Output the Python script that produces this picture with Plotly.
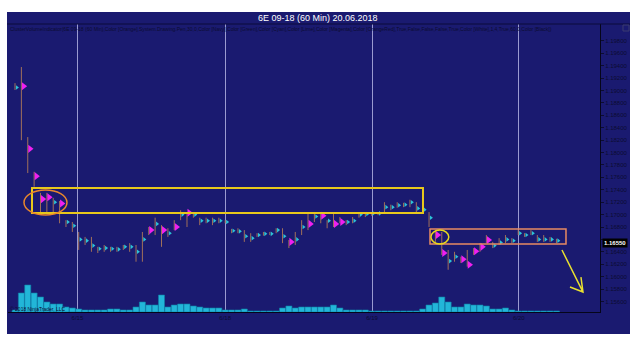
import plotly.graph_objects as go

# ---------------- data ----------------
bar_index = list(range(86))
high = [1.1912, 1.1938, 1.1825, 1.1769, 1.1735, 1.1735, 1.1727, 1.1722, 1.1691, 1.1688,
        1.1672, 1.1664, 1.1664, 1.1648, 1.1651, 1.1648, 1.1648, 1.1651, 1.1654, 1.1651,
        1.1672, 1.1680, 1.1695, 1.1683, 1.1678, 1.1691, 1.1707, 1.1704, 1.1704, 1.1695,
        1.1695, 1.1695, 1.1695, 1.1691, 1.1677, 1.1678, 1.1675, 1.1670, 1.1670, 1.1672,
        1.1672, 1.1678, 1.1678, 1.1659, 1.1672, 1.1691, 1.1703, 1.1704, 1.1703, 1.1691,
        1.1703, 1.1696, 1.1691, 1.1696, 1.1703, 1.1703, 1.1704, 1.1704, 1.1720, 1.1716,
        1.1720, 1.1719, 1.1724, 1.1720, 1.1716, 1.1704, 1.1675, 1.1672, 1.1643, 1.1640,
        1.1632, 1.1643, 1.1646, 1.1654, 1.1667, 1.1656, 1.1662, 1.1667, 1.1662, 1.1675,
        1.1670, 1.1675, 1.1667, 1.1667, 1.1664, 1.1661]
low = [1.1901, 1.1820, 1.1767, 1.1745, 1.1703, 1.1704, 1.1703, 1.1686, 1.1680, 1.1672,
       1.1643, 1.1651, 1.1640, 1.1638, 1.1640, 1.1640, 1.1640, 1.1643, 1.1640, 1.1624,
       1.1624, 1.1667, 1.1667, 1.1648, 1.1664, 1.1675, 1.1691, 1.1680, 1.1695, 1.1683,
       1.1686, 1.1683, 1.1686, 1.1686, 1.1670, 1.1670, 1.1656, 1.1656, 1.1664, 1.1666,
       1.1667, 1.1670, 1.1654, 1.1646, 1.1651, 1.1667, 1.1675, 1.1688, 1.1686, 1.1678,
       1.1680, 1.1686, 1.1683, 1.1686, 1.1695, 1.1696, 1.1698, 1.1699, 1.1703, 1.1707,
       1.1711, 1.1712, 1.1712, 1.1704, 1.1703, 1.1680, 1.1656, 1.1635, 1.1611, 1.1624,
       1.1622, 1.1616, 1.1635, 1.1640, 1.1654, 1.1646, 1.1651, 1.1654, 1.1654, 1.1667,
       1.1664, 1.1667, 1.1656, 1.1656, 1.1656, 1.1654]
poc = [1.1905, 1.1907, 1.1806, 1.1762, 1.1725, 1.1728, 1.1720, 1.1718, 1.1688, 1.1682,
       1.1660, 1.1658, 1.1650, 1.1645, 1.1646, 1.1645, 1.1644, 1.1648, 1.1648, 1.1640,
       1.1660, 1.1675, 1.1685, 1.1675, 1.1670, 1.1680, 1.1700, 1.1703, 1.1700, 1.1690,
       1.1690, 1.1690, 1.1690, 1.1688, 1.1674, 1.1673, 1.1665, 1.1662, 1.1667, 1.1669,
       1.1669, 1.1675, 1.1665, 1.1656, 1.1660, 1.1680, 1.1685, 1.1697, 1.1698, 1.1690,
       1.1685, 1.1688, 1.1688, 1.1690, 1.1700, 1.1701, 1.1702, 1.1702, 1.1712, 1.1712,
       1.1715, 1.1716, 1.1720, 1.1710, 1.1708, 1.1695, 1.1667, 1.1638, 1.1625, 1.1632,
       1.1628, 1.1619, 1.1641, 1.1648, 1.1659, 1.1650, 1.1655, 1.1660, 1.1658, 1.1670,
       1.1667, 1.1670, 1.1660, 1.1660, 1.1660, 1.1658]
magenta_bars = [1, 2, 3, 4, 5, 7, 21, 23, 25, 27, 43, 46, 48, 50, 51, 66, 67, 70, 71, 72, 73, 74]
volume = [2000, 19000, 27000, 19000, 15000, 10000, 8000, 8000, 5000, 4000,
          3000, 2000, 2000, 2000, 2000, 3000, 3000, 2000, 2000, 5000,
          10000, 7000, 7000, 17000, 5000, 7000, 8000, 8000, 6000, 5000,
          4000, 4000, 4000, 2000, 2000, 2000, 3000, 1000, 1000, 1000,
          1000, 1000, 4000, 6000, 4000, 5000, 5000, 5000, 5000, 5000,
          7000, 4000, 2000, 2000, 2000, 2000, 1000, 1000, 1000, 1000,
          1000, 1000, 1000, 1000, 3000, 7000, 9000, 15000, 10000, 5000,
          5000, 8000, 7000, 7000, 6000, 3000, 3000, 4000, 2000, 1000,
          1000, 1000, 1000, 1000, 1000, 1000]
day_positions = [9.8, 33.0, 56.05, 79.1]
day_labels = ["6/15", "6/18", "6/19", "6/20"]
price_ticks = [1.156, 1.158, 1.160, 1.162, 1.164, 1.166, 1.168, 1.170, 1.172, 1.174, 1.176,
               1.178, 1.180, 1.182, 1.184, 1.186, 1.188, 1.190, 1.192, 1.194, 1.196, 1.198]
price_tick_text = ["1.15600", "1.15800", "1.16000", "1.16200", "1.16400", "", "1.16800",
                   "1.17000", "1.17200", "1.17400", "1.17600", "1.17800", "1.18000", "1.18200",
                   "1.18400", "1.18600", "1.18800", "1.19000", "1.19200", "1.19400", "1.19600",
                   "1.19800"]
last_price = 1.16550
title_text = "6E 09-18 (60 Min) 20.06.2018"
indicator_text = ("ClusterVolumeIndicator(6E 09-18 (60 Min),Color [Orange],System.Drawing.Pen,30,0,"
                  "Color [Navy],Color [Green],Color [Cyan],Color [Lime],Color [Magenta],Color [OrangeRed],"
                  "True,False,False,False,True,Color [White],1,4,True,60,0,Color [Black])")

# ---------------- figure ----------------
NAVY = "#1a1a70"
fig = go.Figure()

# volume histogram (hidden overlay axis)
fig.add_trace(go.Bar(x=bar_index, y=volume, yaxis="y2",
                     marker=dict(color="#22b6d8", line=dict(color="#0e7fa6", width=0.6)),
                     width=0.95, hoverinfo="skip"))

# high-low range lines
xs, ys = [], []
for i, h, l in zip(bar_index, high, low):
    xs += [i, i, None]
    ys += [l, h, None]
fig.add_trace(go.Scatter(x=xs, y=ys, mode="lines",
                         line=dict(color="#a0705a", width=1), hoverinfo="skip"))

# cluster flags
norm_x = [i + 0.3 for i in bar_index if i not in magenta_bars]
norm_y = [poc[i] for i in bar_index if i not in magenta_bars]
fig.add_trace(go.Scatter(x=norm_x, y=norm_y, mode="markers",
                         marker=dict(symbol="triangle-right", size=4, color="#2cc4d8",
                                     line=dict(width=0)), hoverinfo="skip"))
mag_x = [i + 0.35 for i in magenta_bars]
mag_y = [poc[i] for i in magenta_bars]
fig.add_trace(go.Scatter(x=mag_x, y=mag_y, mode="markers",
                         marker=dict(symbol="triangle-right", size=7, color="#f020f0",
                                     line=dict(width=0)), hoverinfo="skip"))

# ---- layout geometry in pixels ----
L, R, T, B = 8, 600, 24, 312
W, H = 640, 340

def px(x):
    return (x - L) / (R - L)

def py(y):
    return (B - y) / (B - T)

shapes = [
    # navy panel
    dict(type="rect", xref="paper", yref="paper", x0=px(7), x1=px(630), y0=py(334), y1=py(12),
         fillcolor=NAVY, line=dict(width=0), layer="below"),
    # title bar separator
    dict(type="line", xref="paper", yref="paper", x0=px(7), x1=px(630), y0=py(24), y1=py(24),
         line=dict(color="#0a0a3a", width=1)),
    # close box
    dict(type="rect", xref="paper", yref="paper", x0=px(623), x1=px(629), y0=py(31), y1=py(25),
         line=dict(color="#3a3a70", width=1)),
    # yellow rectangle
    dict(type="rect", x0=2.67, x1=64.05, y0=1.17026, y1=1.17429,
         line=dict(color="#e8c81c", width=2)),
    # orange ellipse
    dict(type="circle", x0=1.41, x1=8.16, y0=1.16993, y1=1.17397,
         line=dict(color="#e8862c", width=1.5)),
    # salmon rectangle
    dict(type="rect", x0=65.15, x1=86.5, y0=1.16526, y1=1.16768,
         line=dict(color="#e88a62", width=1.5)),
    # yellow small ellipse
    dict(type="circle", x0=65.3, x1=68.1, y0=1.16526, y1=1.16751,
         line=dict(color="#e8d81c", width=1.5)),
    # yellow arrow
    dict(type="path", path="M 85.87 1.16429 L 89.17 1.15751 M 87.13 1.15832 L 89.17 1.15751 L 88.85 1.15993",
         line=dict(color="#e8e030", width=1.5)),
]

annotations = [
    dict(xref="paper", yref="paper", x=px(318), y=py(18), text=title_text, showarrow=False,
         font=dict(family="Arial", size=9, color="white"), xanchor="center", yanchor="middle"),
    dict(xref="paper", yref="paper", x=px(8), y=py(29), text=indicator_text, showarrow=False,
         font=dict(family="Arial", size=5, color="#0c0c30"), xanchor="left", yanchor="middle"),
    dict(xref="paper", yref="paper", x=px(8), y=py(309), text="© 2018 NinjaTrader, LLC", showarrow=False,
         font=dict(family="Arial", size=5, color="#0c0c30"), xanchor="left", yanchor="middle"),
    dict(xref="paper", yref="y", x=px(602), y=last_price, text="<b>%.5f</b>" % last_price, showarrow=False,
         font=dict(family="Arial", size=6, color="white"), bgcolor="black", borderpad=1,
         xanchor="left", yanchor="middle"),
]

fig.update_layout(
    width=W, height=H,
    margin=dict(l=L, r=W - R, t=T, b=H - B),
    paper_bgcolor="white", plot_bgcolor=NAVY,
    showlegend=False, bargap=0.05,
    shapes=shapes, annotations=annotations,
    xaxis=dict(range=[-1.1, 91.84], tickvals=day_positions, ticktext=day_labels,
               showgrid=True, gridcolor="#9a9ad0", gridwidth=1, zeroline=False,
               showline=True, linecolor="#05051a", linewidth=1, ticks="",
               tickfont=dict(family="Arial", size=6, color="#0c0c30")),
    yaxis=dict(range=[1.15429, 1.20074], side="right", tickvals=price_ticks, ticktext=price_tick_text,
               showgrid=False, zeroline=False, showline=True, linecolor="#05051a", linewidth=1,
               ticks="outside", ticklen=3, tickcolor="#0c0c30",
               tickfont=dict(family="Arial", size=6, color="#0c0c30")),
    yaxis2=dict(overlaying="y", range=[0, 288000], visible=False),
)

fig.write_html("out.html")
